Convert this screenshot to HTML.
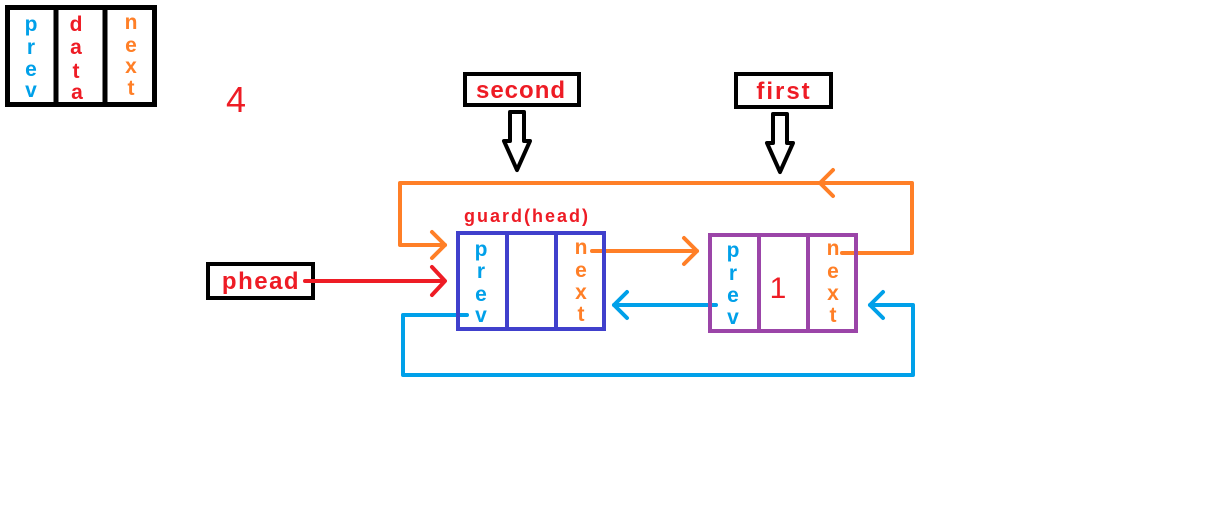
<!DOCTYPE html>
<html><head><meta charset="utf-8"><style>
html,body{margin:0;padding:0;background:#fff;width:1214px;height:532px;overflow:hidden}
text{font-family:"Liberation Sans","Noto Sans CJK SC",sans-serif;font-weight:bold}
</style></head><body>
<svg width="1214" height="532" viewBox="0 0 1214 532" xmlns="http://www.w3.org/2000/svg">
<rect width="1214" height="532" fill="#fff"/>
<g>
<rect x="7.5" y="7.5" width="147" height="97" fill="none" stroke="#000" stroke-width="5"/>
<line x1="56" y1="6" x2="56" y2="106" stroke="#000" stroke-width="5"/>
<line x1="105" y1="6" x2="105" y2="106" stroke="#000" stroke-width="5"/>
<g fill="#00a0e9" font-size="21" text-anchor="middle"><text x="31" y="31">p</text><text x="31" y="54">r</text><text x="31" y="76">e</text><text x="31" y="97">v</text></g>
<g fill="#ee1c25" font-size="21" text-anchor="middle"><text x="76" y="31">d</text><text x="76" y="54">a</text><text x="76" y="78">t</text><text x="77" y="99">a</text></g>
<g fill="#ff7f27" font-size="21" text-anchor="middle"><text x="131" y="29">n</text><text x="131" y="52">e</text><text x="131" y="73">x</text><text x="131" y="95">t</text></g>
</g>
<text x="226" y="112" fill="#ee1c25" font-size="36" style="font-weight:normal">4</text>
<g>
<rect x="465" y="74" width="114" height="31" fill="#fff" stroke="#000" stroke-width="4"/>
<text x="521" y="98" fill="#ee1c25" font-size="24" letter-spacing="1" text-anchor="middle">second</text>
<path d="M510,112 H524 V141 H530 L517,170 L504,141 H510 Z" fill="#fff" stroke="#000" stroke-width="4" stroke-linejoin="round"/>
</g>
<g>
<rect x="736" y="74" width="95" height="33" fill="#fff" stroke="#000" stroke-width="4"/>
<text x="784" y="99" fill="#ee1c25" font-size="24" letter-spacing="2" text-anchor="middle">first</text>
<path d="M773,114 H787 V143 H793 L780,172 L767,143 H773 Z" fill="#fff" stroke="#000" stroke-width="4" stroke-linejoin="round"/>
</g>
<g>
<rect x="208" y="264" width="105" height="34" fill="#fff" stroke="#000" stroke-width="4"/>
<text x="261" y="289" fill="#ee1c25" font-size="24" letter-spacing="1.5" text-anchor="middle">phead</text>
<g stroke="#ee1c25" stroke-width="4" fill="none" stroke-linecap="round" stroke-linejoin="round">
<line x1="305" y1="281" x2="443" y2="281"/><polyline points="432,267 445,281 432,295"/></g>
</g>
<g stroke="#ff7f27" stroke-width="4" fill="none" stroke-linecap="round" stroke-linejoin="round">
<polyline points="842,253 912,253 912,183 400,183 400,245 445,245"/>
<polyline points="432,232 445,245 432,258"/>
<polyline points="833,170 820,183 833,196"/>
<line x1="592" y1="251" x2="697" y2="251"/>
<polyline points="684,238 697,251 684,264"/>
</g>
<g stroke="#00a0e9" stroke-width="4" fill="none" stroke-linecap="round" stroke-linejoin="round">
<polyline points="467,315 403,315 403,375 913,375 913,305 870,305"/>
<polyline points="883,292 870,305 883,318"/>
<line x1="716" y1="305" x2="614" y2="305"/>
<polyline points="627,292 614,305 627,318"/>
</g>
<g>
<text x="464" y="222" fill="#ee1c25" font-size="18" letter-spacing="2">guard(head)</text>
<rect x="458" y="233" width="146" height="96" fill="none" stroke="#4040cc" stroke-width="4"/>
<line x1="507" y1="233" x2="507" y2="329" stroke="#4040cc" stroke-width="4"/>
<line x1="556" y1="233" x2="556" y2="329" stroke="#4040cc" stroke-width="4"/>
<g fill="#00a0e9" font-size="21" text-anchor="middle"><text x="481" y="256">p</text><text x="481" y="278">r</text><text x="481" y="301">e</text><text x="481" y="322">v</text></g>
<g fill="#ff7f27" font-size="21" text-anchor="middle"><text x="581" y="254">n</text><text x="581" y="277">e</text><text x="581" y="299">x</text><text x="581" y="321">t</text></g>
</g>
<g>
<rect x="710" y="235" width="146" height="96" fill="none" stroke="#9b45a8" stroke-width="4"/>
<line x1="759" y1="235" x2="759" y2="331" stroke="#9b45a8" stroke-width="4"/>
<line x1="808" y1="235" x2="808" y2="331" stroke="#9b45a8" stroke-width="4"/>
<g fill="#00a0e9" font-size="21" text-anchor="middle"><text x="733" y="257">p</text><text x="733" y="280">r</text><text x="733" y="302">e</text><text x="733" y="324">v</text></g>
<text x="778" y="298" fill="#ee1c25" font-size="30" text-anchor="middle" style="font-weight:normal">1</text>
<g fill="#ff7f27" font-size="21" text-anchor="middle"><text x="833" y="255">n</text><text x="833" y="278">e</text><text x="833" y="300">x</text><text x="833" y="322">t</text></g>
</g>
</svg>
</body></html>
